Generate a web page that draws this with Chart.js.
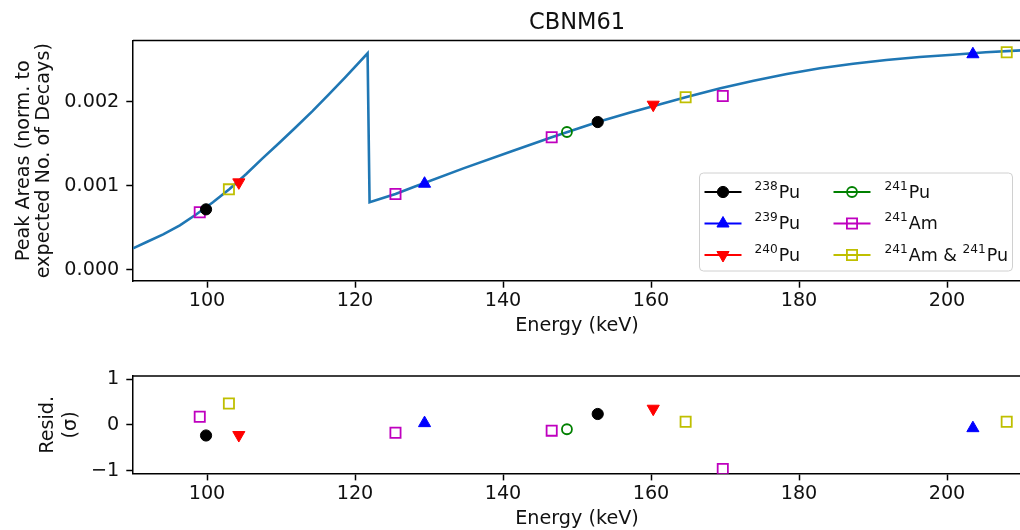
<!DOCTYPE html>
<html>
<head>
<meta charset="utf-8">
<script src="https://cdn.jsdelivr.net/npm/chart.js@4.4.1/dist/chart.umd.min.js"></script>
<style>
  html, body { margin: 0; padding: 0; background: #fff; overflow: hidden; width: 1020px; height: 530px; }
  canvas { position: absolute; left: 0; }
  #top { top: 0; width: 1030px; height: 350px; }
  #bottom { top: 350px; width: 1030px; height: 190px; }
</style>
</head>
<body>
<canvas id="top" width="1030" height="350"></canvas>
<canvas id="bottom" width="1030" height="190"></canvas>
<script>
// axis ticks
const xTicks = [100, 120, 140, 160, 180, 200];
const yTicksTop = [0, 0.001, 0.002];
const yTicksResid = [-1, 0, 1];
const residTickLabels = ['\u22121', '0', '1'];

// fitted curve (keV, peak area)
const curveE = [90.0, 91.85, 94.08, 96.33, 98.57, 100.8, 103.05, 105.3, 107.5, 109.75, 112.0, 114.25,
  116.5, 118.74, 121.7, 121.97, 125.47, 127.93, 134.65, 141.37, 146.58, 152.8, 157.07, 164.68,
  169.38, 173.87, 178.35, 182.83, 187.32, 191.8, 196.28, 200.77, 205.25, 210.0];
const curveY = [0.000253, 0.000328, 0.00042, 0.000527, 0.000659, 0.000802, 0.000961, 0.00114, 0.001327, 0.00151, 0.001697, 0.001891,
  0.002094, 0.0023, 0.00258, 0.000802, 0.000901, 0.000985, 0.001207, 0.001418, 0.001578, 0.00176, 0.00187, 0.002055,
  0.002162, 0.002253, 0.002333, 0.002401, 0.002456, 0.0025, 0.002536, 0.002563, 0.002592, 0.002615];

// measured peaks: energy, area, residual
const pu238E = [99.87, 152.8];
const pu238Y = [0.000718, 0.00176];
const pu238R = [-0.23, 0.24];
const pu239E = [129.4, 203.5];
const pu239Y = [0.001024, 0.002569];
const pu239R = [0.04, -0.07];
const pu240E = [104.3, 160.3];
const pu240Y = [0.00104, 0.001967];
const pu240R = [-0.22, 0.355];
const pu241E = [148.64];
const pu241Y = [0.001641];
const pu241R = [-0.094];
const am241E = [99.02, 125.47, 146.58, 169.7];
const am241Y = [0.000683, 0.000901, 0.001578, 0.00207];
const am241R = [0.18, -0.17, -0.124, -0.96];
const mixE = [102.96, 164.68, 208.07];
const mixY = [0.000957, 0.002055, 0.002592];
const mixR = [0.47, 0.07, 0.07];

const FONT = 'DejaVu Sans';
const TXT = '#111';

// series + marker styles
const series = [
  { label: '238Pu', e: pu238E, y: pu238Y, r: pu238R, color: '#000000', style: 'circle', radius: 5.6, rot: 0, open: false },
  { label: '239Pu', e: pu239E, y: pu239Y, r: pu239R, color: '#0000ff', style: 'triangle', radius: 7, rot: 0, open: false },
  { label: '240Pu', e: pu240E, y: pu240Y, r: pu240R, color: '#ff0000', style: 'triangle', radius: 7, rot: 180, open: false },
  { label: '241Pu', e: pu241E, y: pu241Y, r: pu241R, color: '#008000', style: 'circle', radius: 5, rot: 0, open: true },
  { label: '241Am', e: am241E, y: am241Y, r: am241R, color: '#bf00bf', style: 'rect', radius: 7.2, rot: 0, open: true },
  { label: '241Am & 241Pu', e: mixE, y: mixY, r: mixR, color: '#bfbf00', style: 'rect', radius: 7.2, rot: 0, open: true }
];

function pointSet(s, ys) {
  return {
    label: s.label,
    data: s.e.map((e, i) => ({ x: e, y: ys[i] })),
    showLine: false,
    pointStyle: s.style,
    pointRadius: s.radius,
    pointRotation: s.rot,
    pointBorderWidth: s.open ? 1.8 : 1,
    pointBorderColor: s.color,
    pointBackgroundColor: s.open ? 'rgba(0,0,0,0)' : s.color
  };
}

function xAxis(height, titlePad) {
  return {
    type: 'linear', min: 90, max: 210,
    afterBuildTicks: s => { s.ticks = xTicks.map(v => ({ value: v })); },
    afterFit: s => { s.height = height; },
    grid: { drawOnChartArea: false, drawTicks: true, tickLength: 6.7, tickWidth: 1.5, color: '#000', tickColor: '#000' },
    border: { display: true, color: '#000', width: 1.5 },
    ticks: { color: TXT, font: { family: FONT, size: 19.2 }, padding: 2, maxRotation: 0, autoSkip: false,
      callback: v => String(v) },
    title: { display: true, text: 'Energy (keV)', color: TXT, font: { family: FONT, size: 19.2, lineHeight: 1.2 },
      padding: { top: 0, bottom: titlePad } }
  };
}

function yAxis(min, max, ticks, fmt, title, lineH, titlePad) {
  return {
    type: 'linear', min: min, max: max,
    afterBuildTicks: s => { s.ticks = ticks.map(v => ({ value: v })); },
    afterFit: s => { s.width = 133; },
    grid: { drawOnChartArea: false, drawTicks: true, tickLength: 6.7, tickWidth: 1.5, color: '#000', tickColor: '#000' },
    border: { display: true, color: '#000', width: 1.5 },
    ticks: { color: TXT, font: { family: FONT, size: 19.2 }, padding: 7, autoSkip: false, callback: fmt },
    title: { display: true, text: title, color: TXT, font: { family: FONT, size: 19.2, lineHeight: lineH / 19.2 },
      padding: { top: titlePad, bottom: 0 } }
  };
}

// top and right spines
const framePlugin = {
  id: 'frame',
  afterDraw(chart) {
    const { ctx, chartArea: a } = chart;
    ctx.save();
    ctx.strokeStyle = '#000';
    ctx.lineWidth = 1.5;
    ctx.beginPath();
    ctx.moveTo(a.left, a.top);
    ctx.lineTo(a.right, a.top);
    ctx.lineTo(a.right, a.bottom);
    ctx.stroke();
    ctx.restore();
  }
};

const titlePlugin = {
  id: 'plotTitle',
  afterDraw(chart) {
    const { ctx, chartArea: a } = chart;
    ctx.save();
    ctx.fillStyle = TXT;
    ctx.font = '22.5px "' + FONT + '"';
    ctx.textAlign = 'center';
    ctx.textBaseline = 'alphabetic';
    ctx.fillText('CBNM61', (a.left + a.right) / 2, a.top - 12);
    ctx.restore();
  }
};

function drawMarker(ctx, s, x, y) {
  ctx.fillStyle = s.open ? 'rgba(0,0,0,0)' : s.color;
  ctx.strokeStyle = s.color;
  ctx.lineWidth = s.open ? 1.8 : 1;
  Chart.helpers.drawPoint(ctx, { pointStyle: s.style, radius: s.radius, rotation: s.rot, borderWidth: ctx.lineWidth }, x, y);
}

// label text with isotope mass numbers raised
function drawLabel(ctx, text, x, y) {
  const parts = text.split(/(\d+)/);
  const big = 17.5, small = 12.2;
  parts.forEach((p, i) => {
    if (!p) return;
    const sup = i % 2 === 1;
    ctx.font = (sup ? small : big) + 'px "' + FONT + '"';
    ctx.fillText(p, x, sup ? y - 7.6 : y);
    x += ctx.measureText(p).width + (sup ? 1 : 0);
  });
}

const legendPlugin = {
  id: 'isoLegend',
  afterDraw(chart) {
    const { ctx, chartArea: a } = chart;
    const w = 313, h = 98;
    const bx = a.right - 8.5 - w, by = a.bottom - 10 - h;
    ctx.save();
    ctx.beginPath();
    ctx.roundRect(bx, by, w, h, 4);
    ctx.fillStyle = 'rgba(255,255,255,0.8)';
    ctx.fill();
    ctx.strokeStyle = '#d0d0d0';
    ctx.lineWidth = 1;
    ctx.stroke();
    const cols = [{ h0: 5, h1: 42, t: 55 }, { h0: 134, h1: 171, t: 185 }];
    const rows = [19, 50.5, 82];
    series.forEach((s, i) => {
      const c = cols[Math.floor(i / 3)], ry = by + rows[i % 3];
      ctx.strokeStyle = s.color;
      ctx.lineWidth = 2;
      ctx.beginPath();
      ctx.moveTo(bx + c.h0, ry);
      ctx.lineTo(bx + c.h1, ry);
      ctx.stroke();
      drawMarker(ctx, s, bx + (c.h0 + c.h1) / 2, ry);
      ctx.fillStyle = TXT;
      ctx.textAlign = 'left';
      ctx.textBaseline = 'alphabetic';
      drawLabel(ctx, s.label, bx + c.t, ry + 5.5);
    });
    ctx.restore();
  }
};

const common = {
  responsive: false,
  animation: false,
  events: [],
  plugins: { legend: { display: false }, tooltip: { enabled: false } }
};

new Chart(document.getElementById('top'), {
  type: 'scatter',
  data: {
    datasets: series.map(s => pointSet(s, s.y)).concat([{
      label: 'fit',
      data: curveE.map((e, i) => ({ x: e, y: curveY[i] })),
      showLine: true,
      borderColor: '#1f77b4',
      borderWidth: 2.6,
      pointRadius: 0,
      tension: 0
    }])
  },
  options: Object.assign({}, common, {
    layout: { padding: { top: 40.5, right: 4.6, left: 0, bottom: 0 } },
    scales: {
      x: xAxis(69, 12),
      y: yAxis(-0.000137, 0.002733, yTicksTop, v => v.toFixed(3),
        ['Peak Areas (norm. to', 'expected No. of Decays)'], 20, 14)
    }
  }),
  plugins: [framePlugin, titlePlugin, legendPlugin]
});

new Chart(document.getElementById('bottom'), {
  type: 'scatter',
  data: { datasets: series.map(s => pointSet(s, s.r)) },
  options: Object.assign({}, common, {
    layout: { padding: { top: 26, right: 4.6, left: 0, bottom: 0 } },
    scales: {
      x: xAxis(66.3, 9.5),
      y: yAxis(-1.065, 1.07, yTicksResid, (v, i) => residTickLabels[i],
        ['Resid.', '(\u03c3)'], 23, 36.5)
    }
  }),
  plugins: [framePlugin]
});
</script>
</body>
</html>
